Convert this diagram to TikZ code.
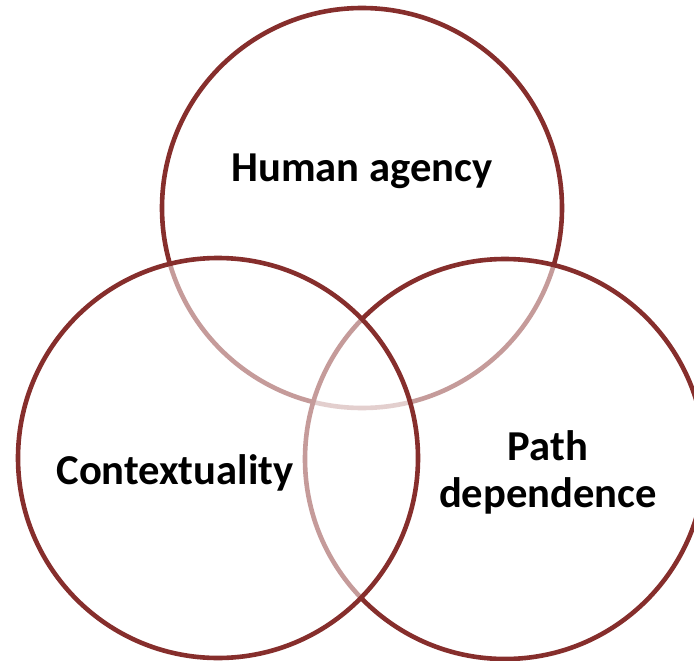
\documentclass[tikz,border=0pt]{standalone}
\usepackage{fontspec}
\setmainfont{Carlito}
\definecolor{ring}{RGB}{134,46,44}
\tikzset{
  ringc/.style={circle, draw=ring, line width=4.6pt, minimum size=400pt, inner sep=0pt, fill=white, fill opacity=0.52, draw opacity=1},
  lbl/.style={font=\fontsize{42.6}{47}\selectfont\bfseries, text=black, align=center}
}
\begin{document}
\begin{tikzpicture}[x=1pt,y=-1pt]
\useasboundingbox (0,0) rectangle (694,661);
\clip (0,0) rectangle (694,661);
\node[ringc] (top) at (362,208) {};
\node[ringc] (right) at (505,459) {};
\node[ringc] (left) at (218,458) {};
\node[lbl] (ha) at (362,171) {Human agency};
\node[lbl] (ctx) at (175,473) {Contextuality};
\node[lbl] (pd) at (548,472) {Path\\dependence};
\end{tikzpicture}
\end{document}
